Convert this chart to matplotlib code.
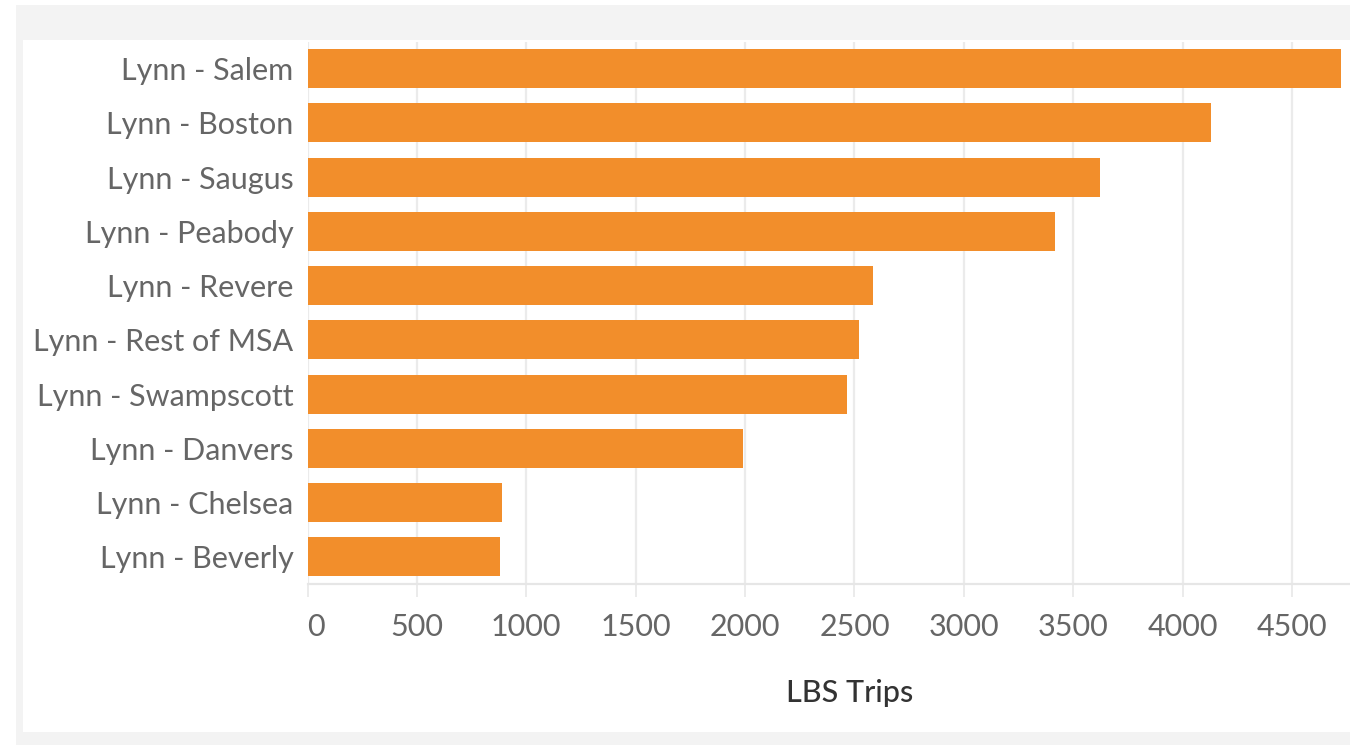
import matplotlib
matplotlib.use("Agg")
import matplotlib.pyplot as plt
from matplotlib.patches import Rectangle

routes = ["Lynn - Salem", "Lynn - Boston", "Lynn - Saugus", "Lynn - Peabody",
          "Lynn - Revere", "Lynn - Rest of MSA", "Lynn - Swampscott",
          "Lynn - Danvers", "Lynn - Chelsea", "Lynn - Beverly"]
trips = [4722, 4129, 3622, 3416, 2584, 2520, 2466, 1991, 889, 880]
x_ticks = [0, 500, 1000, 1500, 2000, 2500, 3000, 3500, 4000, 4500]

plt.rcParams["font.family"] = ["Lato", "DejaVu Sans"]

W, H = 1350, 745
fig = plt.figure(figsize=(W / 100, H / 100), dpi=100)
fig.patch.set_facecolor("white")

# gray frame and white panel behind the chart
fig.patches.append(Rectangle((16 / W, 0), 1, 1 - 5 / H, transform=fig.transFigure,
                             facecolor="#f3f3f3", edgecolor="none", zorder=-2))
fig.patches.append(Rectangle((23 / W, 1 - 732 / H), 1, (732 - 40) / H,
                             transform=fig.transFigure, facecolor="white",
                             edgecolor="none", zorder=-1))

ax = fig.add_axes([307.5 / W, 1 - 584 / H, 1 - 307.5 / W, (584 - 41.5) / H])
ax.set_facecolor("none")

y = list(range(len(routes)))
ax.barh(y, trips, height=0.72, color="#f28e2b", zorder=3)
ax.set_ylim(len(routes) - 0.5, -0.5)
ax.set_yticks(y)
ax.set_yticklabels(routes)
ax.set_xlim(0, 4765)
ax.set_xticks(x_ticks)

ax.grid(axis="x", color="#ebebeb", linewidth=1.6, zorder=0)
for s in ["top", "right", "left"]:
    ax.spines[s].set_visible(False)
ax.spines["bottom"].set_color("#e6e6e6")
ax.spines["bottom"].set_linewidth(1.6)

ax.tick_params(axis="y", length=0, pad=10, labelsize=22, labelcolor="#666666")
ax.tick_params(axis="x", length=9, width=1.4, color="#ebebeb", pad=12,
               labelsize=22, labelcolor="#666666")
ax.get_xticklabels()[0].set_horizontalalignment("left")

ax.set_xlabel("LBS Trips", fontsize=22, color="#333333", fontweight="medium")
ax.xaxis.set_label_coords(0.52, -0.175)

fig.savefig("out.png", dpi=100)
